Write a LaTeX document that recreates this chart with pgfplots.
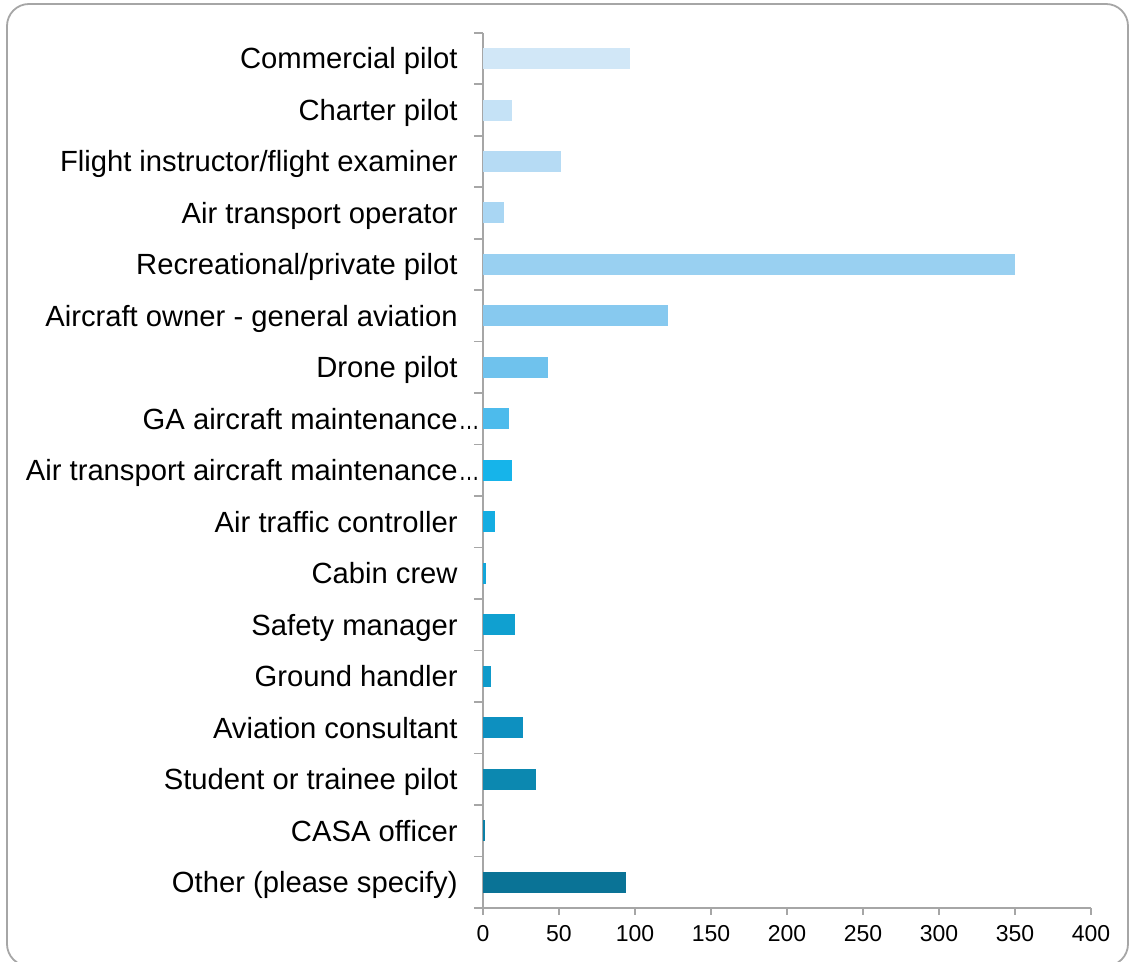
\documentclass[border=0pt]{standalone}
\usepackage{pgfplots}
\pgfplotsset{compat=1.18}
\usepackage{fontspec}
\setmainfont{Liberation Sans}
\definecolor{axgray}{HTML}{A6A6A6}
\definecolor{c1}{HTML}{D1E7F7}
\definecolor{c2}{HTML}{C5E2F6}
\definecolor{c3}{HTML}{B6DBF4}
\definecolor{c4}{HTML}{A9D6F3}
\definecolor{c5}{HTML}{99D0F1}
\definecolor{c6}{HTML}{87C9EF}
\definecolor{c7}{HTML}{6FC2ED}
\definecolor{c8}{HTML}{4DBBEC}
\definecolor{c9}{HTML}{16B4EA}
\definecolor{c10}{HTML}{14ADE2}
\definecolor{c11}{HTML}{12A6DA}
\definecolor{c12}{HTML}{10A0D0}
\definecolor{c13}{HTML}{0F9ACA}
\definecolor{c14}{HTML}{0D90C0}
\definecolor{c15}{HTML}{0C88B0}
\definecolor{c16}{HTML}{0B80A6}
\definecolor{c17}{HTML}{0A7396}
\newcommand{\trunc}{\rlap{\hspace{0.5pt}\scalebox{0.72}[1]{…}}\hspace{-4pt}}
\begin{document}
\begin{tikzpicture}
\useasboundingbox (0,0) rectangle (565pt,481pt);
\draw[color=axgray, line width=0.9pt, rounded corners=11pt] (3.5pt,-2pt) rectangle (564pt,479pt);
\begin{axis}[
  at={(241.5pt,27pt)}, anchor=south west,
  scale only axis, width=304pt, height=437.6pt,
  xbar, bar width=10.5pt, bar shift=0pt,
  xmin=0, xmax=400, xtick distance=50,
  ymin=-0.5, ymax=16.5,
  axis x line*=bottom, axis y line*=left,
  axis line style={draw=axgray, line width=0.9pt},
  tick align=outside,
  x tick style={draw=axgray, line width=0.8pt},
  xtick={0,50,...,400},
  major x tick style={draw=axgray},
  ytick={0,...,16},
  yticklabels={Other (please specify),CASA officer,Student or trainee pilot,Aviation consultant,Ground handler,Safety manager,Cabin crew,Air traffic controller,Air transport aircraft maintenance\trunc,GA aircraft maintenance\trunc,Drone pilot,Aircraft owner - general aviation,Recreational/private pilot,Air transport operator,Flight instructor/flight examiner,Charter pilot,Commercial pilot},
  major y tick style={draw=none},
  minor ytick={-0.5,0.5,...,16.5},
  minor y tick style={draw=axgray, line width=0.8pt},
  minor tick length=4.5pt,
  major tick length=3.5pt,
  yticklabel style={font=\fontsize{14.6}{17}\selectfont, inner sep=0pt, anchor=east, text height=10.5pt, text depth=0.2pt, xshift=-9pt},
  xticklabel style={font=\fontsize{11.5}{13}\selectfont, inner sep=0pt, anchor=north, yshift=-5pt},
  /pgf/number format/assume math mode=true,
  clip=false,
]
\addplot[fill=c1, draw=none] coordinates {(97,16)};
\addplot[fill=c2, draw=none] coordinates {(19,15)};
\addplot[fill=c3, draw=none] coordinates {(51,14)};
\addplot[fill=c4, draw=none] coordinates {(14,13)};
\addplot[fill=c5, draw=none] coordinates {(350,12)};
\addplot[fill=c6, draw=none] coordinates {(122,11)};
\addplot[fill=c7, draw=none] coordinates {(43,10)};
\addplot[fill=c8, draw=none] coordinates {(17,9)};
\addplot[fill=c9, draw=none] coordinates {(19,8)};
\addplot[fill=c10, draw=none] coordinates {(8,7)};
\addplot[fill=c11, draw=none] coordinates {(2,6)};
\addplot[fill=c12, draw=none] coordinates {(21,5)};
\addplot[fill=c13, draw=none] coordinates {(5,4)};
\addplot[fill=c14, draw=none] coordinates {(26,3)};
\addplot[fill=c15, draw=none] coordinates {(35,2)};
\addplot[fill=c16, draw=none] coordinates {(1,1)};
\addplot[fill=c17, draw=none] coordinates {(94,0)};
\end{axis}
\end{tikzpicture}
\end{document}
